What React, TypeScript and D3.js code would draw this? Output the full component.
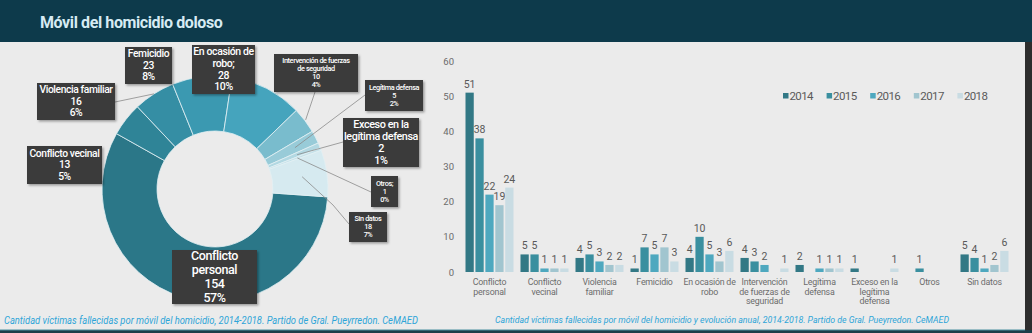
import React from "react";
import * as d3 from "d3";

// ---------- DATA ----------
const motives = [
  "Conflicto personal",
  "Conflicto vecinal",
  "Violencia familiar",
  "Femicidio",
  "En ocasión de robo",
  "Intervención de fuerzas de seguridad",
  "Legítima defensa",
  "Exceso en la legítima defensa",
  "Otros",
  "Sin datos",
];
const totals = [154, 13, 16, 23, 28, 10, 5, 2, 1, 18];
const percents = ["57%", "5%", "6%", "8%", "10%", "4%", "2%", "1%", "0%", "7%"];
const donutNameLines = [
  ["Conflicto", "personal"],
  ["Conflicto vecinal"],
  ["Violencia familiar"],
  ["Femicidio"],
  ["En ocasión de", "robo;"],
  ["Intervención de fuerzas", "de seguridad"],
  ["Legítima defensa"],
  ["Exceso en la", "legítima defensa"],
  ["Otros;"],
  ["Sin datos"],
];
const years = ["2014", "2015", "2016", "2017", "2018"];
const v2014 = [51, 5, 4, 1, 4, 4, 2, 1, 0, 5];
const v2015 = [38, 5, 5, 7, 10, 3, 0, 0, 1, 4];
const v2016 = [22, 1, 3, 5, 5, 2, 1, 0, 0, 1];
const v2017 = [19, 1, 2, 7, 3, 0, 1, 0, 0, 2];
const v2018 = [24, 1, 2, 3, 6, 1, 1, 1, 0, 6];
const yearSeries = [v2014, v2015, v2016, v2017, v2018];
const yTicks = [0, 10, 20, 30, 40, 50, 60];
const barCategoryLines = [
  ["Conflicto", "personal"],
  ["Conflicto", "vecinal"],
  ["Violencia", "familiar"],
  ["Femicidio"],
  ["En ocasión de", "robo"],
  ["Intervención", "de fuerzas de", "seguridad"],
  ["Legítima", "defensa"],
  ["Exceso en la", "legítima", "defensa"],
  ["Otros"],
  ["Sin datos"],
];
const title = "Móvil del homicidio doloso";
const captionLeft =
  "Cantidad víctimas fallecidas por móvil del homicidio, 2014-2018. Partido de Gral. Pueyrredon. CeMAED";
const captionRight =
  "Cantidad víctimas fallecidas por móvil del homicidio y evolución anual, 2014-2018.  Partido de Gral. Pueyrredon. CeMAED";

// ---------- STYLE / LAYOUT ----------
const FONT = "Roboto, 'Open Sans', sans-serif";
const sliceColors = [
  "#2b7788",
  "#2f8497",
  "#358ea4",
  "#3b99b1",
  "#45a4bd",
  "#79bccd",
  "#98cbd8",
  "#b2d8e2",
  "#c6e2ea",
  "#d6eaf0",
];
const yearColors = ["#327885", "#3a8f9f", "#4ea8bf", "#a1c5cf", "#c9dce3"];

// label boxes for donut (layout)
const boxes = [
  { x: 172, y: 250, w: 85, h: 54, fs: 12.5, attach: null, r: 0 },
  { x: 27, y: 146, w: 75, h: 38, fs: 10.3, attach: null, r: 0 },
  { x: 37, y: 83, w: 78, h: 37, fs: 10.3, attach: [115, 102], r: 113 },
  { x: 125, y: 47, w: 47, h: 37, fs: 10.3, attach: null, r: 0 },
  { x: 192, y: 45, w: 63, h: 49, fs: 10.5, attach: null, r: 0 },
  { x: 274, y: 54, w: 84, h: 38, fs: 7.3, attach: [315, 92], r: 114 },
  { x: 365, y: 80, w: 58, h: 31, fs: 7.3, attach: [365, 95], r: 90 },
  { x: 343, y: 118, w: 76, h: 49, fs: 10.8, attach: [343, 142], r: 89 },
  { x: 371, y: 176, w: 27, h: 31, fs: 7.3, attach: [371, 192], r: 88 },
  { x: 349, y: 212, w: 38, h: 30, fs: 7.3, attach: [349, 224], r: 88, bend: [333, 205] },
];

export default function App() {
  const W = 1032;
  const H = 333;

  // donut
  const cx = 215;
  const cy = 189;
  const outerR = 113;
  const innerR = 58;
  const start = (94 * Math.PI) / 180;
  const pie = d3
    .pie<number>()
    .sort(null)
    .value((d) => d)
    .startAngle(start)
    .endAngle(start + 2 * Math.PI);
  const arcs = pie(totals);
  const arcGen = d3.arc<d3.PieArcDatum<number>>().innerRadius(innerR).outerRadius(outerR);

  // bars
  const x0 = d3.scaleBand<string>().domain(motives).range([462, 1012]).padding(0);
  const x1 = d3
    .scaleBand<string>()
    .domain(years)
    .range([3.5, 51.5])
    .paddingInner(0.17);
  const y = d3.scaleLinear().domain([0, 60]).range([272, 61]);

  return (
    <svg width={W} height={H} style={{ display: "block", position: "absolute", left: 0, top: 0 }}>
      <defs>
        <filter id="sh" x="-20%" y="-20%" width="150%" height="150%">
          <feDropShadow dx="1.5" dy="1.5" stdDeviation="1.2" floodColor="#000" floodOpacity="0.35" />
        </filter>
      </defs>
      {/* backgrounds */}
      <rect x={0} y={0} width={W} height={H} fill="#ebebeb" />
      <rect x={0} y={0} width={W} height={42} fill="#0d3a4b" />
      <rect x={1025} y={42} width={7} height={H - 42} fill="#2d2d2d" />
      <rect x={0} y={330} width={W} height={3} fill="#1b3d48" />
      <rect x={0} y={329.5} width={1025} height={1} fill="#4b8fa0" />
      <text
        x={40}
        y={28}
        fontFamily={FONT}
        fontWeight={700}
        fontSize={16}
        letterSpacing={-0.4}
        fill="#d6ebf3"
      >
        {title}
      </text>

      {/* donut */}
      <g transform={`translate(${cx},${cy})`}>
        {arcs.map((a, i) => (
          <path key={i} d={arcGen(a) || ""} fill={sliceColors[i]} stroke="#e2f0f4" strokeWidth={0.8} />
        ))}
      </g>
      {/* leader lines */}
      {arcs.map((a, i) => {
        const b = boxes[i];
        if (!b.attach) return null;
        const mid = (a.startAngle + a.endAngle) / 2;
        const ax = cx + b.r * Math.sin(mid);
        const ay = cy - b.r * Math.cos(mid);
        const pts = [[ax, ay]] as number[][];
        if ((b as any).bend) pts.push((b as any).bend);
        pts.push(b.attach as number[]);
        return (
          <polyline
            key={"l" + i}
            points={pts.map((p) => p.join(",")).join(" ")}
            fill="none"
            stroke="#8a8a8a"
            strokeWidth={0.8}
          />
        );
      })}
      {/* label boxes */}
      {boxes.map((b, i) => {
        const lines = [...donutNameLines[i], String(totals[i]), percents[i]];
        const lh = b.fs * 1.12;
        const total = lines.length * lh;
        const y0 = b.y + (b.h - total) / 2 + b.fs * 0.86;
        return (
          <g key={"b" + i}>
            <rect x={b.x} y={b.y} width={b.w} height={b.h} fill="#3b3b3b" filter="url(#sh)" />
            {lines.map((ln, j) => (
              <text
                key={j}
                x={b.x + b.w / 2}
                y={y0 + j * lh}
                textAnchor="middle"
                fontFamily={FONT}
                fontWeight={500}
                fontSize={b.fs}
                letterSpacing={-0.4}
                fill="#ffffff"
              >
                {ln}
              </text>
            ))}
          </g>
        );
      })}
      <text
        x={4}
        y={324}
        fontFamily={FONT}
        fontStyle="italic"
        fontSize={10}
        fill="#2ea5d8"
        textLength={414}
        lengthAdjust="spacingAndGlyphs"
      >
        {captionLeft}
      </text>

      {/* bar chart */}
      {yTicks.map((t) => (
        <text
          key={t}
          x={454}
          y={y(t) + 3.5}
          textAnchor="end"
          fontFamily={FONT}
          fontSize={9.5}
          fill="#6a6a6a"
        >
          {t}
        </text>
      ))}
      {motives.map((m, i) => (
        <g key={m} transform={`translate(${x0(m)},0)`}>
          {years.map((yr, k) => {
            const v = yearSeries[k][i];
            if (!v) return null;
            const bx = x1(yr) as number;
            return (
              <g key={yr}>
                <rect
                  x={bx}
                  y={y(v)}
                  width={x1.bandwidth()}
                  height={y(0) - y(v)}
                  fill={yearColors[k]}
                />
                <text
                  x={bx + x1.bandwidth() / 2}
                  y={y(v) - 5}
                  textAnchor="middle"
                  fontFamily={FONT}
                  fontSize={10.5}
                  fill="#595959"
                >
                  {v}
                </text>
              </g>
            );
          })}
          {barCategoryLines[i].map((ln, j) => (
            <text
              key={j}
              x={x0.bandwidth() / 2}
              y={285 + j * 9.6}
              textAnchor="middle"
              fontFamily={FONT}
              fontSize={8.8}
              letterSpacing={-0.2}
              fill="#6b6b6b"
            >
              {ln}
            </text>
          ))}
        </g>
      ))}
      {/* legend */}
      {years.map((yr, k) => {
        const lx = 783 + k * 43.6;
        return (
          <g key={yr}>
            <rect x={lx} y={93} width={5.5} height={5.5} fill={yearColors[k]} />
            <text
              x={lx + 6.5}
              y={100}
              fontFamily={FONT}
              fontSize={11.5}
              letterSpacing={-0.6}
              fill="#5a5a5a"
            >
              {yr}
            </text>
          </g>
        );
      })}
      <text
        x={495}
        y={323}
        fontFamily={FONT}
        fontStyle="italic"
        fontSize={9.5}
        fill="#2ea5d8"
        textLength={454}
        lengthAdjust="spacingAndGlyphs"
      >
        {captionRight}
      </text>
    </svg>
  );
}
